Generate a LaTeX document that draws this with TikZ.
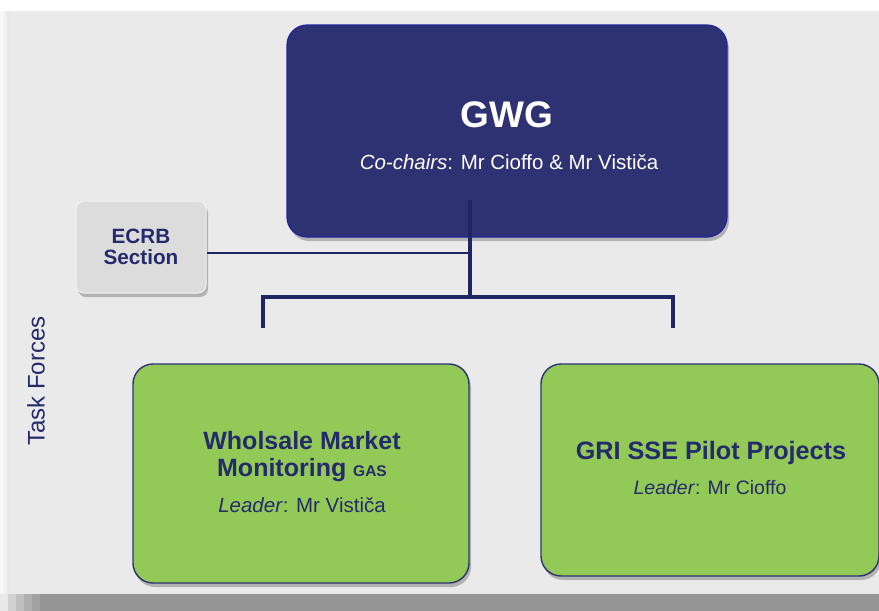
\documentclass[tikz,border=0pt]{standalone}
\usepackage{fontspec}
\setmainfont{Liberation Sans}
\usetikzlibrary{shadows}
\definecolor{navy}{HTML}{2E3273}
\definecolor{navytext}{HTML}{252A6C}
\definecolor{linecol}{HTML}{1F2562}
\definecolor{greenbox}{HTML}{92C957}
\definecolor{greybox}{HTML}{DCDCDC}
\definecolor{panel}{HTML}{EAEAEA}
\definecolor{bandgray}{HTML}{959595}
\tikzset{
  x=1pt, y=-1pt,
  boxshadow/.style={drop shadow={shadow xshift=2pt, shadow yshift=-4pt, opacity=.35, fill=black!70}},
  gwgbox/.style={draw=navy!70!blue, line width=1.2pt, fill=navy, rounded corners=20pt, boxshadow},
  tfbox/.style={draw=navy, line width=1.4pt, fill=greenbox, rounded corners=20pt, boxshadow},
  ecrbbox/.style={draw=white!90!gray, line width=1pt, fill=greybox, rounded corners=8pt, boxshadow},
  thinline/.style={draw=linecol, line width=2pt},
  thickline/.style={draw=linecol, line width=4.5pt},
  lbl/.style={align=center, inner sep=0pt},
}
\begin{document}
\begin{tikzpicture}
\useasboundingbox (0,0) rectangle (879,611);
% background
\fill[white] (0,0) rectangle (879,611);
% bottom shadow band
\fill[bandgray] (0,593) rectangle (879,611);
\fill[bandgray!88!white] (0,593) rectangle (40,611);
\fill[bandgray!75!white] (0,593) rectangle (32,611);
\fill[bandgray!60!white] (0,593) rectangle (24,611);
\fill[bandgray!42!white] (0,593) rectangle (16,611);
\fill[bandgray!22!white] (0,593) rectangle (8,611);
% left soft shadow
\fill[gray!6!white] (0,11) rectangle (10,594);
\fill[gray!12!white] (4,11) rectangle (10,594);
\fill[gray!18!white] (7,11) rectangle (10,594);
\fill[panel] (10,11) rectangle (879,594);
% boxes
\path[gwgbox] (287,25) rectangle (727,237);
\node[lbl, text=white, font=\bfseries\fontsize{37}{40}\selectfont] (gwgt) at (507,115) {GWG};
\node[lbl, text=white, font=\fontsize{20.5}{24}\selectfont] (gwgs) at (509,162) {\textit{Co-chairs}: Mr Cioffo \& Mr Vističa};
\coordinate (gwg) at (470,200);

\path[ecrbbox] (76,201) rectangle (206,293);
\node[lbl, text=navytext, font=\bfseries\fontsize{20.7}{21.5}\selectfont] (ecrb) at (141,247) {ECRB\\Section};
\coordinate (ecrbR) at (207,253);

\path[tfbox] (133,364) rectangle (469,583);
\node[lbl, text=navytext, font=\bfseries\fontsize{25}{27}\selectfont] (wmm) at (302,457) {Wholsale Market\\Monitoring {\fontsize{15.5}{15}\selectfont GAS}};
\node[lbl, text=navytext, font=\fontsize{20.5}{22}\selectfont] (wmml) at (302,505) {\textit{Leader}: Mr Vističa};

\path[tfbox] (541,364) rectangle (879,576);
\node[lbl, text=navytext, font=\bfseries\fontsize{25.2}{27}\selectfont] (gri) at (711,453) {GRI SSE Pilot Projects};
\node[lbl, text=navytext, font=\fontsize{19.5}{22}\selectfont] (gril) at (710,488) {\textit{Leader}: Mr Cioffo};

\node[lbl, text=navytext, rotate=90, font=\fontsize{24}{26}\selectfont] (tf) at (36,381) {Task Forces};

% connectors
\coordinate (jn) at (470,253);
\coordinate (bar) at (470,297);
\coordinate (barL) at (263,297);
\coordinate (barR) at (673,297);
\coordinate (dropL) at (263,328);
\coordinate (dropR) at (673,328);
\draw[thinline] (ecrbR) -- (jn);
\draw[thickline] (gwg) -- (bar);
\draw[thickline, line join=miter] (dropL) -- (barL) -- (barR) -- (dropR);
\end{tikzpicture}
\end{document}
